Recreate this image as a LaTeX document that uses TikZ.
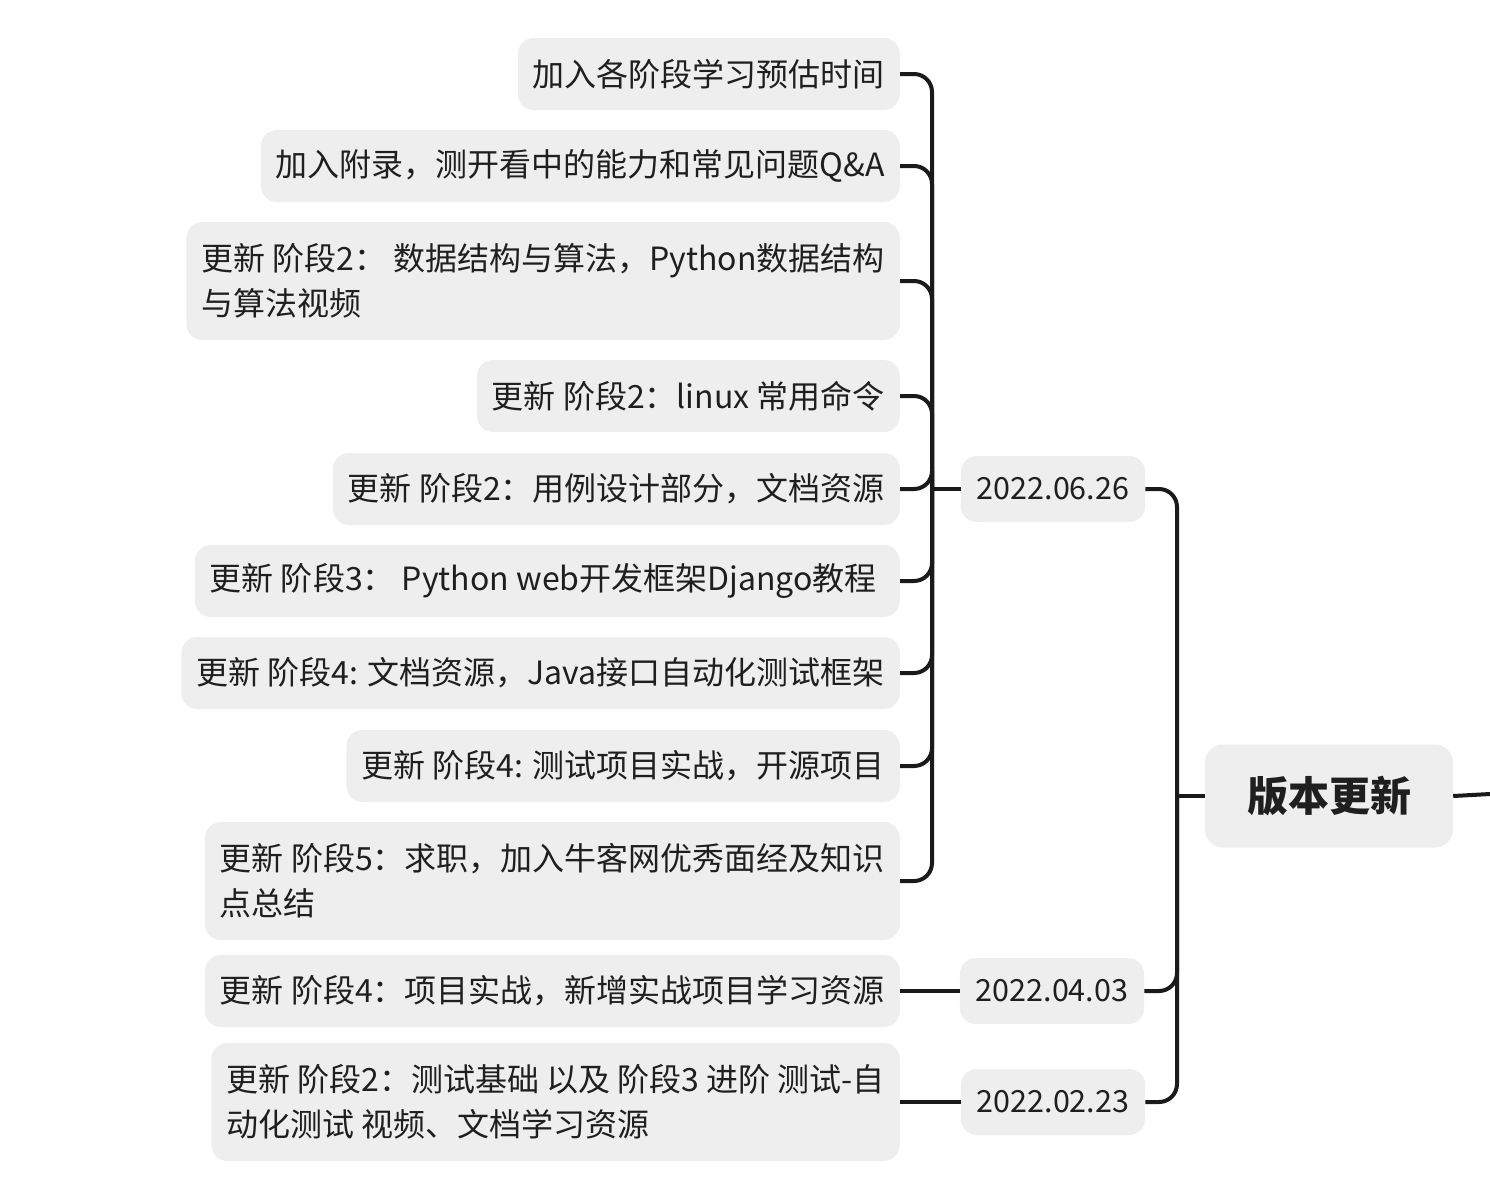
\documentclass[tikz,border=0pt]{standalone}
\usepackage{fontspec}
\setmainfont{Noto Sans CJK SC}
\definecolor{boxfill}{HTML}{EEEEEE}
\definecolor{txt}{HTML}{1F1F1F}
\definecolor{lin}{HTML}{1A1A1A}
\tikzset{
  leaf/.style={anchor=east, fill=boxfill, rounded corners=16pt, inner xsep=15pt, inner ysep=0pt,
    minimum height=72pt, align=left, text=txt, font=\fontsize{32}{45}\selectfont},
  leaftwo/.style={leaf, minimum height=118pt},
  datebox/.style={fill=boxfill, rounded corners=16pt, inner xsep=16pt, inner ysep=0pt,
    minimum height=66pt, text=txt, font=\fontsize{30.5}{36}\selectfont},
  rootbox/.style={fill=boxfill, rounded corners=18pt, minimum width=248pt, minimum height=103pt,
    text=txt, font=\fontsize{41}{48}\selectfont\bfseries},
  conn/.style={draw=lin, line width=4pt, rounded corners=18pt}
}
\begin{document}
\begin{tikzpicture}[x=1pt,y=-1pt]
\useasboundingbox (0,0) rectangle (1490,1200);
% leaves of 2022.06.26
\node[leaf] (l1) at (900,74) {加入各阶段学习预估时间};
\node[leaf] (l2) at (900,166) {加入附录，测开看中的能力和常见问题Q\&A};
\node[leaftwo] (l3) at (900,281) {更新 阶段2：\ 数据结构与算法，Python数据结构\\与算法视频};
\node[leaf] (l4) at (900,396) {更新 阶段2：linux 常用命令};
\node[leaf] (l5) at (900,489) {更新 阶段2：用例设计部分，文档资源};
\node[leaf] (l6) at (900,581) {更新 阶段3：\ Python web开发框架Django教程\hspace{8pt}};
\node[leaf] (l7) at (900,673) {更新 阶段4: 文档资源，Java接口自动化测试框架};
\node[leaf] (l8) at (900,766) {更新 阶段4: 测试项目实战，开源项目};
\node[leaftwo] (l9) at (900,881) {更新 阶段5：求职，加入牛客网优秀面经及知识\\点总结};
% other leaves
\node[leaf] (l10) at (900,991) {更新 阶段4：项目实战，新增实战项目学习资源};
\node[leaftwo] (l11) at (900,1102) {更新 阶段2：测试基础 以及 阶段3 进阶 测试-自\\动化测试 视频、文档学习资源};
% dates
\node[datebox] (d1) at (1053,489) {2022.06.26};
\node[datebox] (d2) at (1052,991) {2022.04.03};
\node[datebox] (d3) at (1053,1102) {2022.02.23};
% root
\node[rootbox] (root) at (1329,796) {版本更新};
% spines
\coordinate (sA) at (932,489);
\coordinate (sB) at (1177,796);
\coordinate (rr) at (1490,794);
\foreach \n in {l1,l2,l3,l4,l5,l6,l7,l8,l9} {
  \draw[conn] (\n.east) -| (sA);
}
\draw[conn] (d1.west) -- (sA);
\draw[conn] (l10.east) -- (d2.west);
\draw[conn] (l11.east) -- (d3.west);
\foreach \n in {d1,d2,d3} {
  \draw[conn] (\n.east) -| (sB);
}
\draw[conn] (root.west) -- (sB);
\draw[conn] (root.east) -- (rr);
\end{tikzpicture}
\end{document}
